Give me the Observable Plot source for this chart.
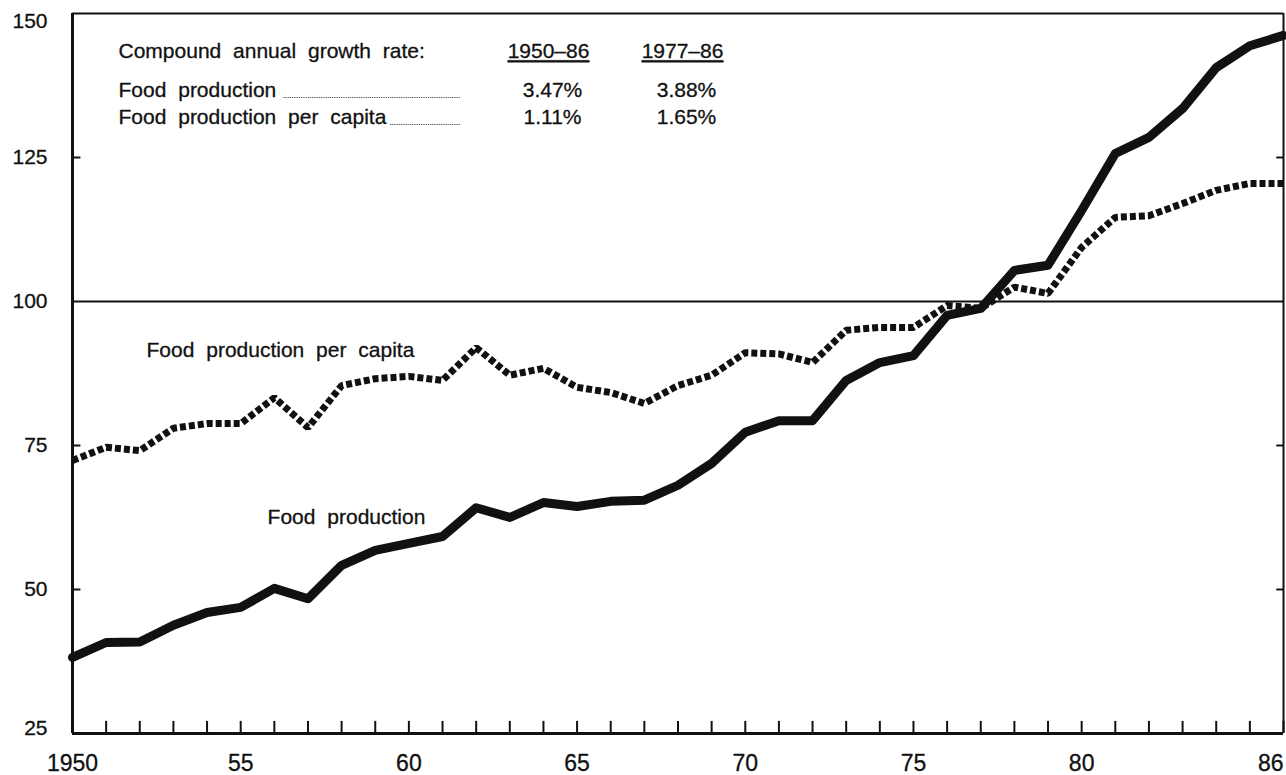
<!DOCTYPE html>
<html><head><meta charset="utf-8">
<script src="https://cdn.jsdelivr.net/npm/d3@7"></script>
<script src="https://cdn.jsdelivr.net/npm/@observablehq/plot@0.6"></script>
<style>
html,body{margin:0;padding:0;background:#fff;}
#chart svg{font-family:"Liberation Sans",Arial,Helvetica,sans-serif;}
</style></head><body><div id="chart"></div>
<script>
// ---- data ----
const years = [1950,1951,1952,1953,1954,1955,1956,1957,1958,1959,1960,1961,1962,1963,1964,1965,1966,1967,1968,1969,1970,1971,1972,1973,1974,1975,1976,1977,1978,1979,1980,1981,1982,1983,1984,1985,1986];
const foodProduction = [38.2,40.8,40.9,43.8,46.0,46.9,50.2,48.4,54.2,56.8,58.0,59.2,64.2,62.5,65.1,64.4,65.3,65.5,68.1,71.9,77.3,79.3,79.3,86.3,89.4,90.6,97.6,98.8,105.4,106.3,115.8,125.7,128.5,133.5,140.6,144.4,146.2];
const foodPerCapita = [72.4,74.7,74.1,78.0,78.8,78.8,83.3,78.1,85.4,86.6,87.0,86.3,92.0,87.2,88.4,85.1,84.2,82.3,85.4,87.2,91.1,90.9,89.4,95.0,95.5,95.5,99.3,98.8,102.5,101.4,109.4,114.6,114.9,117.0,119.3,120.5,120.5];
const yTickValues = [150,125,100,75,50,25];
const yMinorTicks = [125,75,50];
const xLabelYears = [1950,1955,1960,1965,1970,1975,1980];
const xLabelText = ["1950","55","60","65","70","75","80"];
const xLastYear = [1986];
const xLastText = ["86"];
const tableTitle = ["Compound annual growth rate:"];
const periodHeaders = ["1950\u201386","1977\u201386"];
const rowLabels = ["Food production","Food production per capita"];
const rate1950_86 = ["3.47%","1.11%"];
const rate1977_86 = ["3.88%","1.65%"];
const seriesLabels = [
  {name:"Food production per capita", year:1952.2, value:91.5},
  {name:"Food production", year:1955.8, value:62.5}
];

const prod = years.map((y,i)=>({year:y, value:foodProduction[i]}));
const cap = years.map((y,i)=>({year:y, value:foodPerCapita[i]}));

const txt = {fill:"#111", stroke:"#111", strokeWidth:0.3};
const T = (data, o) => Plot.text(data, {text:d=>d, frameAnchor:"top-left", textAnchor:"start", lineAnchor:"middle", fontSize:21, letterSpacing:0.5, ...txt, ...o});
const leader = (n) => ".".repeat(n);

const chart = Plot.plot({
  width:1286, height:775,
  marginLeft:72, marginRight:3, marginTop:13, marginBottom:42,
  x:{domain:[1950,1986], axis:null},
  y:{domain:[25,150], axis:null},
  style:{background:"#fff", wordSpacing:"6px"},
  marks:[
    // frame
    Plot.ruleY([150], {stroke:"#111", strokeWidth:2}),
    Plot.ruleY([100], {stroke:"#111", strokeWidth:2}),
    Plot.ruleY([25], {stroke:"#111", strokeWidth:3}),
    Plot.ruleX([1950], {stroke:"#111", strokeWidth:3}),
    Plot.ruleX([1986], {stroke:"#111", strokeWidth:2}),
    // year ticks
    Plot.ruleX(years, {x:d=>d, y1:25, y2:27.1, stroke:"#111", strokeWidth:2}),
    // small y ticks
    Plot.ruleY(yMinorTicks, {y:d=>d, x1:1950, x2:1950.25, stroke:"#111", strokeWidth:2}),
    Plot.ruleY(yMinorTicks, {y:d=>d, x1:1985.8, x2:1986, stroke:"#111", strokeWidth:2}),
    // y labels
    Plot.text(yTickValues.filter(v=>v!==150 && v!==25), {x:1950, y:d=>d, text:d=>String(d), textAnchor:"end", dx:-25, fontSize:21, ...txt}),
    Plot.text([150], {x:1950, y:d=>d, text:d=>String(d), textAnchor:"end", dx:-25, dy:8, fontSize:21, ...txt}),
    Plot.text([25], {x:1950, y:d=>d, text:d=>String(d), textAnchor:"end", dx:-25, dy:-5, fontSize:21, ...txt}),
    // x labels
    Plot.text(xLabelYears, {x:d=>d, text:(d,i)=>xLabelText[i], frameAnchor:"bottom", dy:37, fontSize:23, ...txt}),
    Plot.text(xLastYear, {x:d=>d, text:(d,i)=>xLastText[i], frameAnchor:"bottom", textAnchor:"end", dy:37, fontSize:23, ...txt}),
    // lines
    Plot.line(cap, {x:"year", y:"value", stroke:"#111", strokeWidth:7, strokeDasharray:"6 3", strokeLinecap:"butt", strokeLinejoin:"miter"}),
    Plot.line(prod, {x:"year", y:"value", stroke:"#111", strokeWidth:9, strokeLinejoin:"round"}),
    // series labels
    Plot.text(seriesLabels, {x:"year", y:"value", text:"name", textAnchor:"start", fontSize:21, letterSpacing:0.5, ...txt}),
    // table
    T(tableTitle, {dx:46, dy:38}),
    T([periodHeaders[0]], {dx:476, dy:38, textAnchor:"middle", letterSpacing:1.5}),
    T([periodHeaders[1]], {dx:610, dy:38, textAnchor:"middle", letterSpacing:1.5}),
    T([rowLabels[0]], {dx:46, dy:77}),
    T([rowLabels[1]], {dx:46, dy:104}),
    T([leader(80)], {dx:388, dy:82, textAnchor:"end", fontSize:8, letterSpacing:0, strokeWidth:0.2}),
    T([leader(32)], {dx:388, dy:109, textAnchor:"end", fontSize:8, letterSpacing:0, strokeWidth:0.2}),
    T([rate1950_86[0]], {dx:480, dy:77, textAnchor:"middle", letterSpacing:4}),
    T([rate1950_86[1]], {dx:480, dy:104, textAnchor:"middle", letterSpacing:4}),
    T([rate1977_86[0]], {dx:614, dy:77, textAnchor:"middle", letterSpacing:4}),
    T([rate1977_86[1]], {dx:614, dy:104, textAnchor:"middle", letterSpacing:4})
  ]
});
d3.select(chart).selectAll("text").filter(function(){ return periodHeaders.includes(this.textContent); })
  .style("text-decoration","underline");
document.getElementById("chart").appendChild(chart);
</script></body></html>
